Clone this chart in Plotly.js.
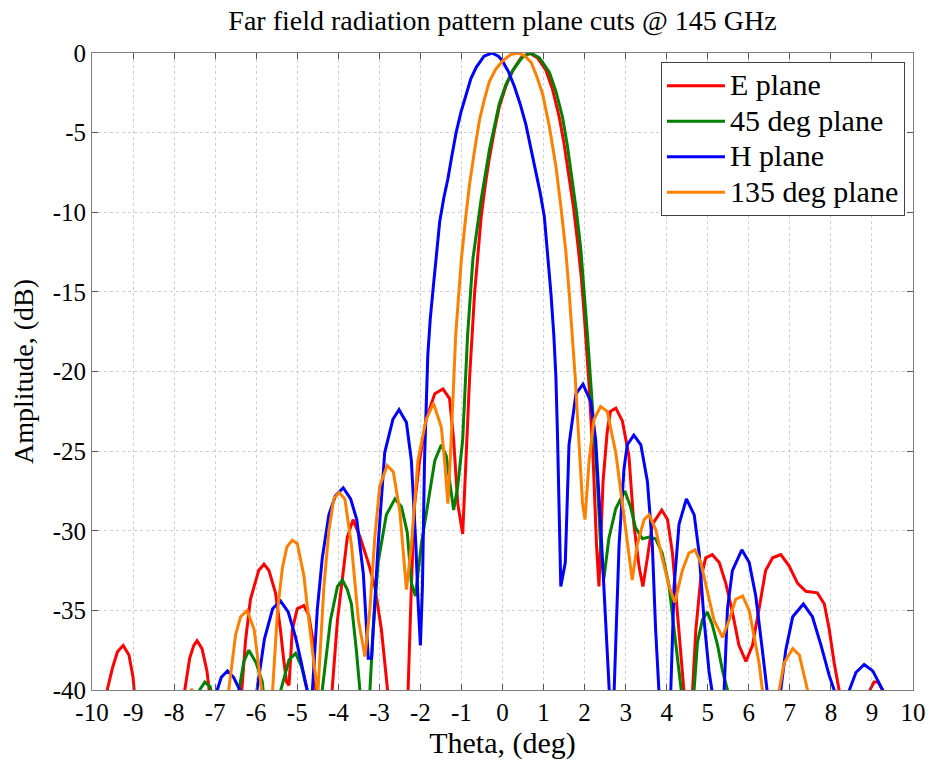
<!DOCTYPE html>
<html>
<head>
<meta charset="utf-8">
<script src="https://cdn.plot.ly/plotly-3.0.1.min.js"></script>
<style>html,body{margin:0;padding:0;background:#fff;}#chart{width:931px;height:763px;}</style>
</head>
<body>
<div id="chart"></div>
<script>
// [theta (deg), amplitude (dB)] pairs; values below -40 fall outside the axis
const ePlane = [
[-9.68,-41],[-9.63,-40],[-9.5,-38.6],[-9.38,-37.6],[-9.24,-37.2],[-9.1,-37.8],[-9.0,-39.2],[-8.94,-41],
[-7.8,-41],[-7.74,-40],[-7.62,-38],[-7.52,-37.2],[-7.44,-36.9],[-7.32,-37.4],[-7.2,-38.8],[-7.1,-41],
[-6.4,-41],[-6.35,-40],[-6.26,-36.9],[-6.14,-34.3],[-5.94,-32.5],[-5.81,-32.1],[-5.69,-32.5],[-5.53,-33.9],[-5.41,-36.2],[-5.33,-38.1],[-5.26,-39.5],[-5.2,-39.7],[-5.12,-36.2],[-5.0,-34.9],[-4.84,-34.7],[-4.72,-35.3],[-4.63,-36.7],[-4.55,-40],[-4.52,-41],
[-4.18,-41],[-4.15,-40],[-4.02,-35.6],[-3.9,-33],[-3.78,-30.4],[-3.64,-29.3],[-3.47,-30.4],[-3.27,-32],[-3.11,-33.5],[-2.95,-36.2],[-2.79,-40],[-2.76,-41],
[-2.33,-41],[-2.3,-40],[-2.22,-33.5],[-2.14,-28.3],[-2.02,-25.6],[-1.86,-23.0],[-1.65,-21.4],[-1.45,-21.1],[-1.29,-21.7],[-1.19,-24.3],[-1.09,-28.3],[-0.97,-30.2],[-0.89,-25.6],[-0.8,-20.3],[-0.68,-15.1],[-0.52,-10.3],[-0.42,-8.3],[-0.32,-6.6],[-0.2,-4.9],[-0.08,-3.4],[0.08,-2.1],[0.25,-1.1],[0.45,-0.3],[0.65,0],[0.85,-0.3],[1.06,-1.1],[1.22,-2.3],[1.38,-4],[1.5,-5.7],[1.62,-7.7],[1.73,-9.7],[1.83,-11.9],[1.92,-14.1],[1.99,-16.4],[2.11,-20.9],[2.21,-25.6],[2.29,-30.9],[2.35,-33.5],[2.45,-26.9],[2.55,-23.8],[2.63,-22.5],[2.76,-22.3],[2.92,-23.1],[3.08,-25.3],[3.2,-29.6],[3.33,-32.3],[3.42,-33.5],[3.53,-31.7],[3.65,-29.6],[3.88,-28.7],[4.02,-29.3],[4.14,-31.4],[4.26,-34.9],[4.34,-37.5],[4.42,-40],[4.45,-41],
[4.6,-41],[4.63,-40],[4.71,-36.2],[4.83,-33],[4.95,-31.7],[5.11,-31.5],[5.28,-32],[5.44,-33.3],[5.6,-35.1],[5.76,-37.2],[5.93,-38.2],[6.09,-37.2],[6.25,-34.9],[6.41,-32.5],[6.58,-31.7],[6.78,-31.5],[6.98,-32.2],[7.19,-33.3],[7.39,-33.8],[7.67,-33.9],[7.84,-34.6],[7.96,-36.2],[8.08,-38.3],[8.2,-40],[8.23,-41],
[8.92,-41],[8.95,-40],[9.05,-39.5],[9.15,-39.5],[9.26,-40],[9.3,-41]
];
const plane45 = [
[-7.45,-41],[-7.38,-40],[-7.25,-39.5],[-7.12,-39.8],[-7.02,-41],
[-6.45,-41],[-6.42,-40],[-6.3,-38.2],[-6.18,-37.5],[-6.0,-38.3],[-5.85,-39.5],[-5.8,-41],
[-5.43,-41],[-5.4,-40],[-5.2,-38.1],[-5.04,-37.7],[-4.9,-38.5],[-4.76,-40],[-4.73,-41],
[-4.42,-41],[-4.39,-40],[-4.19,-35.6],[-4.02,-33.5],[-3.9,-33.1],[-3.78,-33.7],[-3.68,-34.6],[-3.56,-37.5],[-3.47,-40],[-3.44,-41],
[-3.26,-41],[-3.23,-40],[-3.15,-36.2],[-3.03,-32],[-2.83,-29],[-2.62,-28],[-2.46,-28.5],[-2.32,-30.1],[-2.22,-33.3],[-2.12,-34.1],[-1.98,-30.9],[-1.82,-28.3],[-1.65,-25.6],[-1.49,-24.6],[-1.37,-25.3],[-1.27,-27.2],[-1.19,-28.7],[-1.09,-27.2],[-0.97,-24.3],[-0.91,-21],[-0.85,-17.7],[-0.72,-12.9],[-0.62,-10.9],[-0.52,-9.2],[-0.32,-6.1],[-0.2,-4.6],[-0.08,-3.2],[0.08,-2.0],[0.25,-1.1],[0.47,-0.3],[0.69,0],[0.9,-0.3],[1.14,-1.2],[1.3,-2.4],[1.46,-4],[1.58,-5.8],[1.7,-7.9],[1.81,-10.1],[1.91,-12.4],[1.99,-14.9],[2.07,-17.7],[2.19,-22.2],[2.31,-26.9],[2.39,-30.9],[2.47,-33],[2.59,-30.5],[2.76,-28.6],[2.98,-27.5],[3.12,-28.5],[3.24,-29.8],[3.41,-30.5],[3.57,-30.4],[3.73,-30.5],[3.89,-31.4],[4.06,-33.5],[4.18,-36.2],[4.3,-38.8],[4.37,-40],[4.4,-41],
[4.64,-41],[4.67,-40],[4.75,-37],[4.87,-35.6],[4.99,-35.1],[5.11,-35.9],[5.24,-37.2],[5.36,-38.8],[5.48,-40],[5.51,-41]
];
const hPlane = [
[-7.0,-41],[-6.95,-40],[-6.85,-39.2],[-6.7,-38.8],[-6.55,-39.2],[-6.4,-40],[-6.36,-41],
[-6.02,-41],[-5.98,-40],[-5.8,-36.8],[-5.6,-34.9],[-5.41,-34.4],[-5.22,-35.1],[-5.04,-36.7],[-4.9,-38.3],[-4.76,-40],[-4.73,-41],
[-4.66,-41],[-4.63,-40],[-4.51,-34.9],[-4.39,-31.7],[-4.23,-29],[-4.07,-27.8],[-3.88,-27.3],[-3.7,-28],[-3.55,-29.3],[-3.39,-32.7],[-3.27,-38],[-3.19,-38],[-3.03,-30.9],[-2.87,-25.1],[-2.67,-23.0],[-2.52,-22.4],[-2.34,-23.2],[-2.22,-25.6],[-2.11,-30.9],[-2.06,-34.3],[-2.0,-37.2],[-1.95,-33.5],[-1.9,-25.6],[-1.82,-19],[-1.76,-16.7],[-1.69,-14.8],[-1.61,-12.6],[-1.53,-10.6],[-1.43,-9.1],[-1.33,-7.9],[-1.23,-6.4],[-1.13,-5.0],[-1.01,-3.7],[-0.89,-2.6],[-0.77,-1.6],[-0.64,-0.9],[-0.45,-0.2],[-0.26,0],[-0.1,-0.2],[0.0,-0.5],[0.15,-1.2],[0.29,-2.1],[0.43,-3.2],[0.57,-4.5],[0.69,-5.9],[0.81,-7.4],[0.92,-8.8],[1.02,-10.3],[1.1,-12.6],[1.18,-15.1],[1.25,-17.7],[1.3,-20.3],[1.34,-24],[1.38,-28.3],[1.42,-33.5],[1.53,-32],[1.62,-24.6],[1.79,-21.4],[1.96,-20.8],[2.15,-21.9],[2.27,-24.3],[2.39,-29.6],[2.51,-36.2],[2.59,-40],[2.62,-41],
[2.69,-41],[2.72,-40],[2.84,-30.9],[2.96,-26.1],[3.04,-24.6],[3.2,-24],[3.37,-24.6],[3.53,-26.9],[3.65,-30.9],[3.73,-36.2],[3.81,-40],[3.84,-41],
[4.07,-41],[4.1,-40],[4.18,-33.5],[4.3,-29.6],[4.48,-28],[4.67,-29],[4.79,-31.4],[4.91,-35.6],[5.03,-38.8],[5.1,-40],[5.13,-41],
[5.37,-41],[5.4,-40],[5.48,-34.9],[5.6,-32.5],[5.83,-31.2],[6.01,-32],[6.17,-34.1],[6.33,-37.5],[6.46,-40],[6.49,-41],
[6.75,-41],[6.78,-40],[6.9,-37.5],[7.07,-35.4],[7.33,-34.6],[7.55,-35.4],[7.76,-37.2],[7.96,-39.1],[8.08,-40],[8.11,-41],
[8.42,-41],[8.45,-40],[8.61,-38.9],[8.81,-38.4],[9.02,-38.8],[9.26,-40],[9.29,-41]
];
const plane135 = [
[-7.65,-41],[-7.57,-39.9],[-7.5,-41],
[-6.7,-41],[-6.67,-40],[-6.5,-36.5],[-6.38,-35.4],[-6.22,-35],[-6.05,-36.2],[-5.95,-38.2],[-5.85,-40],[-5.82,-41],
[-5.63,-41],[-5.6,-40],[-5.48,-35],[-5.36,-32.3],[-5.25,-31],[-5.12,-30.6],[-5.0,-30.8],[-4.84,-32.8],[-4.7,-36],[-4.55,-39.5],[-4.5,-40.3],[-4.45,-38],[-4.35,-33.5],[-4.23,-30],[-4.11,-28],[-3.98,-27.6],[-3.84,-28],[-3.68,-30.9],[-3.51,-35.6],[-3.35,-37.9],[-3.23,-34.9],[-3.11,-30.4],[-2.99,-27.2],[-2.81,-25.9],[-2.66,-26.3],[-2.5,-28.8],[-2.34,-33.7],[-2.22,-30.9],[-2.06,-25.6],[-1.86,-23.0],[-1.68,-22.0],[-1.49,-23.5],[-1.41,-25.6],[-1.33,-28.3],[-1.25,-24.3],[-1.14,-17.7],[-1.07,-15.1],[-1.0,-12.9],[-0.9,-10.4],[-0.8,-8.2],[-0.68,-6.1],[-0.56,-4.2],[-0.44,-2.9],[-0.32,-1.8],[-0.16,-1.0],[0.0,-0.5],[0.2,-0.1],[0.39,0],[0.55,-0.2],[0.7,-0.6],[0.84,-1.5],[0.98,-2.6],[1.14,-4.6],[1.3,-7.1],[1.42,-9.6],[1.54,-12.4],[1.62,-14.9],[1.7,-17.7],[1.77,-20.3],[1.83,-23],[1.95,-28.3],[2.01,-29.3],[2.11,-25.6],[2.23,-23],[2.39,-22.2],[2.55,-22.5],[2.76,-25.1],[2.92,-28.3],[3.08,-31.7],[3.16,-33.1],[3.28,-30.9],[3.45,-29.3],[3.57,-29],[3.73,-29.9],[3.89,-31.7],[4.06,-33.5],[4.2,-34.5],[4.38,-32.5],[4.54,-31.4],[4.69,-31.2],[4.83,-32],[4.99,-33.8],[5.15,-35.6],[5.36,-36.7],[5.52,-35.6],[5.68,-34.3],[5.85,-34.1],[6.01,-35],[6.13,-36.7],[6.25,-38.3],[6.33,-40],[6.36,-41],
[6.71,-41],[6.74,-40],[6.86,-38.3],[7.07,-37.4],[7.23,-37.8],[7.35,-39.1],[7.43,-40],[7.46,-41]
];

const seriesNames = ['E plane', '45 deg plane', 'H plane', '135 deg plane'];
const seriesColors = ['#ff0000', '#008000', '#0000ff', '#ff8000'];
const seriesData = [ePlane, plane45, hPlane, plane135];

const xTicks = [-10,-9,-8,-7,-6,-5,-4,-3,-2,-1,0,1,2,3,4,5,6,7,8,9,10];
const yTicks = [-40,-35,-30,-25,-20,-15,-10,-5,0];

const FONT = 'Liberation Serif, Times New Roman, serif';

const traces = seriesData.map((d, i) => ({
  type: 'scatter',
  mode: 'lines',
  name: '<span style="font-size:30px">' + seriesNames[i] + '</span>',
  x: d.map(p => p[0]),
  y: d.map(p => p[1]),
  line: {color: seriesColors[i], width: 3}
}));

const axisCommon = {
  showline: true, linecolor: '#7f7f7f', linewidth: 1, mirror: 'ticks',
  ticks: 'inside', ticklen: 6, tickcolor: '#555555', tickwidth: 1,
  showgrid: true, gridcolor: '#cfcfcf', griddash: 'dot', gridwidth: 1,
  zeroline: false,
  tickfont: {family: FONT, size: 25, color: '#000'}
};

const layout = {
  width: 931, height: 763,
  margin: {l: 92, r: 18, t: 53, b: 73},
  paper_bgcolor: '#fff', plot_bgcolor: '#fff',
  font: {family: FONT, color: '#000'},
  title: {text: 'Far field radiation pattern plane cuts @ 145 GHz', font: {family: FONT, size: 28, color: '#000'},
          xref: 'paper', x: 0.5, xanchor: 'center', yref: 'container', y: 0.973, yanchor: 'middle'},
  xaxis: Object.assign({}, axisCommon, {
    range: [-10, 10], tickmode: 'array', tickvals: xTicks, ticktext: xTicks.map(String),
    title: {text: 'Theta, (deg)', font: {family: FONT, size: 30, color: '#000'}, standoff: 4}
  }),
  yaxis: Object.assign({}, axisCommon, {
    range: [-40, 0], tickmode: 'array', tickvals: yTicks, ticktext: yTicks.map(String),
    title: {text: 'Amplitude, (dB)', font: {family: FONT, size: 28, color: '#000'}, standoff: 10}
  }),
  legend: {
    x: 0.693, y: 0.986, xanchor: 'left', yanchor: 'top',
    bgcolor: '#fff', bordercolor: '#404040', borderwidth: 1,
    font: {family: FONT, size: 25, color: '#000'},
    itemwidth: 58,
    tracegroupgap: 0
  },
  showlegend: true
};

Plotly.newPlot('chart', traces, layout, {displayModeBar: false, staticPlot: true});
</script>
</body>
</html>
